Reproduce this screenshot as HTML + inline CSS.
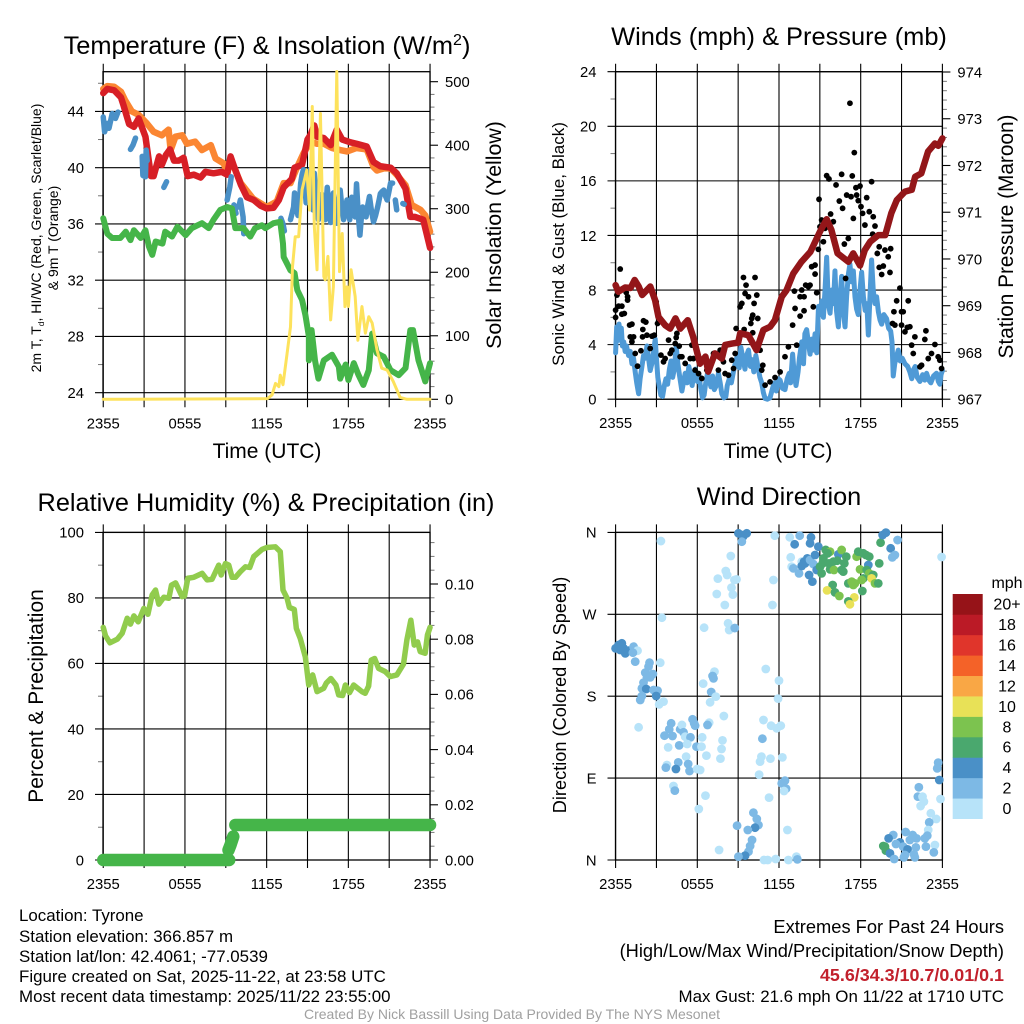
<!DOCTYPE html>
<html lang="en">
<head>
<meta charset="utf-8">
<title>NYS Mesonet Tyrone station meteogram</title>
<style>
html,body{margin:0;padding:0;background:#fff;width:1024px;height:1024px;overflow:hidden}
svg{display:block}
text{font-family:"Liberation Sans",Arial,sans-serif;fill:#000}
</style>
</head>
<body>
<svg id="figure" xmlns="http://www.w3.org/2000/svg" width="1024" height="1024" viewBox="0 0 1024 1024">
  <g id="layer-axes"></g>
  <g id="layer-frame"></g>
  <g id="layer-data"></g>
  <g id="layer-labels"></g>

  <text x="267" y="54" font-size="25.4" text-anchor="middle">Temperature (F) &amp; Insolation (W/m<tspan dy="-9" font-size="16">2</tspan><tspan dy="9">)</tspan></text>
  <text x="779" y="45" font-size="25.4" text-anchor="middle">Winds (mph) &amp; Pressure (mb)</text>
  <text x="266" y="511" font-size="25.3" text-anchor="middle">Relative Humidity (%) &amp; Precipitation (in)</text>
  <text x="779" y="505" font-size="25.3" text-anchor="middle">Wind Direction</text>

  <text x="267" y="458" font-size="21" text-anchor="middle">Time (UTC)</text>
  <text x="778" y="458" font-size="21" text-anchor="middle">Time (UTC)</text>

  <text transform="translate(41,238) rotate(-90)" font-size="14" text-anchor="middle">2m T, T<tspan dy="3" font-size="8.5">d</tspan><tspan dy="-3">, HI/WC (Red, Green, Scarlet/Blue)</tspan></text>
  <text transform="translate(58,238) rotate(-90)" font-size="14" text-anchor="middle">&amp; 9m T (Orange)</text>
  <text transform="translate(501,235) rotate(-90)" font-size="21.3" text-anchor="middle">Solar Insolation (Yellow)</text>
  <text transform="translate(564,244) rotate(-90)" font-size="17" text-anchor="middle">Sonic Wind &amp; Gust (Blue, Black)</text>
  <text transform="translate(1013,236.5) rotate(-90)" font-size="20.8" text-anchor="middle">Station Pressure (Maroon)</text>
  <text transform="translate(43,696) rotate(-90)" font-size="21" text-anchor="middle">Percent &amp; Precipitation</text>
  <text transform="translate(566,695) rotate(-90)" font-size="18.2" text-anchor="middle">Direction (Colored By Speed)</text>

  <g id="legend">
    <text x="1007" y="588" font-size="16" text-anchor="middle">mph</text>
  </g>

  <g font-size="16.9">
    <text x="19" y="921">Location: Tyrone</text>
    <text x="19" y="942">Station elevation: 366.857 m</text>
    <text x="19" y="962">Station lat/lon: 42.4061; -77.0539</text>
    <text x="19" y="982">Figure created on Sat, 2025-11-22, at 23:58 UTC</text>
    <text x="19" y="1002">Most recent data timestamp: 2025/11/22 23:55:00</text>
  </g>
  <g text-anchor="end">
    <text x="1004" y="933" font-size="18.3">Extremes For Past 24 Hours</text>
    <text x="1004" y="957" font-size="18.26">(High/Low/Max Wind/Precipitation/Snow Depth)</text>
    <text x="1004" y="981" font-size="17.9" font-weight="bold" style="fill:#c2202c">45.6/34.3/10.7/0.01/0.1</text>
    <text x="1004" y="1002" font-size="16.9">Max Gust: 21.6 mph On 11/22 at 1710 UTC</text>
  </g>
  <text x="512" y="1019" font-size="14" text-anchor="middle" style="fill:#a0a0a0">Created By Nick Bassill Using Data Provided By The NYS Mesonet</text>
</svg>

<script>
/* ---------- shared axis values ---------- */
const timeGridHours = [0,3,6,9,12,15,18,21,24];
const timeLabelHours = [0,6,12,18,24];
const timeLabels = ['2355','0555','1155','1755','2355'];

const tempTicks = [24,28,32,36,40,44];
const tempMinorTicks = [26,30,34,38,42,46];
const solarTicks = [0,100,200,300,400,500];
const solarMinorTicks = [20,40,60,80,120,140,160,180,220,240,260,280,320,340,360,380,420,440,460,480];
const windTicks = [0,4,8,12,16,20,24];
const windMinorTicks = [2,6,10,14,18,22];
const pressureTicks = [967,968,969,970,971,972,973,974];
const pressureMinorTicks = [967.2,967.4,967.6,967.8,968.2,968.4,968.6,968.8,969.2,969.4,969.6,969.8,970.2,970.4,970.6,970.8,971.2,971.4,971.6,971.8,972.2,972.4,972.6,972.8,973.2,973.4,973.6,973.8];
const humidityTicks = [0,20,40,60,80,100];
const humidityMinorTicks = [10,30,50,70,90];
const precipTicks = [0,0.02,0.04,0.06,0.08,0.10];
const precipMinorTicks = [0.005,0.01,0.015,0.025,0.03,0.035,0.045,0.05,0.055,0.065,0.07,0.075,0.085,0.09,0.095,0.105,0.11,0.115];
const directionTicks = [0,90,180,270,360];
const directionLabels = ['N','E','S','W','N'];

/* ---------- temperature panel ---------- */
const redHours = [0,.3,.8,1.3,1.5,1.9,2.25,2.6,3.1,3.5,3.7,4.1,4.3,4.6,4.9,5.2,5.55,5.9,6.2,6.65,7.15,7.5,8.1,8.7,9.1,9.35,9.6,10.1,10.55,11.05,11.55,12,12.5,12.9,13.25,13.85,14.05,14.6,15,15.2,15.5,15.7,16.2,16.7,17.15,17.55,18.15,18.6,19.35,19.85,20.35,21.1,21.55,22.2,22.55,22.9,23.5,24];
const redTemps = [45.3,45.6,45.5,45,44.4,43.1,42.9,43.5,42.2,39.4,39.4,40.8,40.2,40.9,41.3,40.5,40.5,40.7,39.4,39.5,39.3,39.7,39.6,39.7,39.5,40.8,40.1,38.8,37.9,37.7,37.3,37.1,37.15,37.7,38.6,39.2,40,40.2,42,42.3,43,42.2,42.1,41.6,42.7,42,41.8,41.7,41.5,40.4,40.1,40,39.6,38.5,36.5,36.5,36.3,34.3];
const orangeHours = [0,.3,.8,1.3,1.6,2.1,2.6,3.2,3.7,4.3,4.8,4.95,5.3,5.8,6.15,6.75,7.25,7.9,8.25,8.85,9.1,9.35,10.1,11,12,12.75,13.25,13.75,14.2,14.7,15.2,15.7,16.2,16.8,17.4,17.9,18.6,19.35,19.85,20.1,20.6,21.1,21.55,22.2,22.65,23.3,23.65,24];
const orangeTemps = [45.6,45.8,45.75,45.4,44.8,44,43.75,43.15,42.55,42.3,42.7,41.25,42.2,42.3,41.7,41.85,41.25,41.6,40.65,40.3,39.6,40.6,38.9,37.8,37.2,37.6,38.9,38.9,39.95,41,41.85,41.7,41.7,41.4,41.25,41.15,41.4,41.3,40.05,39.8,39.95,39.95,39.5,38.75,37.35,37,36.6,35.45];
const heatIndexHours = [0,.1,.29,.42,.66,.9,1.08,null,2,2.18,2.37,null,2.86,2.91,3.1,3.15,3.23,null,4.45,4.65,null,9.1,9.3,9.4,null,9.6,9.75,null,9.95,10.07,10.27,10.32,null,13.05,13.2,13.3,null,13.75,13.88,13.98,14.05,14.18,14.3,14.42,14.5,14.6,14.7,14.8,14.9,15,15.1,15.2,15.3,15.4,15.5,15.6,15.7,15.8,15.92,16.05,16.18,16.3,16.45,16.58,16.7,16.8,16.9,17.03,17.15,17.28,17.4,17.52,17.65,17.78,17.9,18,18.1,18.25,18.38,18.5,18.6,18.72,18.85,18.95,19.05,19.18,19.3,19.42,19.55,19.7,19.85,20,20.15,20.28,20.35,20.48,20.6,20.72,20.85,20.98,21.1,21.25,null,21.45,21.55,null,22,22.1];
const heatIndexTemps = [43.6,42.55,43.15,42.8,43.85,43.5,43.95,null,41.3,41.6,42.1,null,40.8,39.45,39.35,41.25,40.5,null,38.6,39,null,37.7,38.65,39.35,null,37.35,36.75,null,37.2,37.7,36.5,35.3,null,36.4,36,35.5,null,36.3,36.8,37.2,38.2,37.2,36.6,37.8,38.9,39.5,39.85,38.8,37.5,38.6,39.7,39.85,38.3,37,39.6,38,37,36.3,37.2,38.1,37,36.3,38.6,37.2,36.1,37.3,38.2,37,36.05,37.4,38.4,37.2,36.3,37,37.7,36.8,36.3,37.9,37,36.5,38.85,36.8,35.2,36.4,37.2,36.9,36.5,37.3,37.95,36.9,36.15,36.6,37.2,37.8,38.15,38.3,38.4,38,37.7,38.3,38.9,38.9,null,37.7,37,null,37.45,37.4];
const dewHours = [0,.3,.65,1.25,1.65,2,2.25,2.75,3.1,3.35,3.6,3.85,4.35,4.55,5.05,5.45,6.05,6.5,7.25,7.75,8.1,8.6,9.1,9.45,9.7,10.3,10.8,11.15,11.65,11.9,12.5,13,13.2,13.25,13.75,14.05,14.25,14.6,14.85,15.1,15.1,15.3,15.55,15.8,16.2,16.8,17.3,17.4,17.8,18,18.4,18.75,19.1,19.5,19.75,20.1,20.6,21.1,21.7,22.2,22.55,22.75,23.15,23.65,24];
const dewTemps = [36.4,35.3,35,35,35.45,34.85,35.55,35,35.55,34.4,33.8,34.75,34.6,35.45,35.1,35.8,35.2,35.7,36.05,35.7,36.3,37,37.2,37.1,35.7,35.7,35.1,35.7,35.9,35.7,36.05,36.15,34.6,33.65,32.7,32.5,31.3,30.6,29.5,28,26.3,28.45,26.3,25,26.3,26.7,25.85,25,26,24.9,26.1,25.25,24.55,25.6,28.2,26.8,26.55,25.6,25.25,25.75,28.45,28.45,26.3,24.8,26.1];
const solarHours = [0,12.05,12.4,12.65,12.9,13,13.2,13.5,13.75,13.9,14.1,14.35,14.6,14.95,15.15,15.35,15.5,15.7,15.95,16.2,16.3,16.5,16.7,16.9,17.15,17.35,17.55,17.75,17.9,18,18.2,18.5,18.7,19,19.25,19.5,19.75,20.1,20.45,20.85,21.3,21.8,22.3,24];
const solarWatts = [0,1,7,25,20,38,23,72,114,209,256,256,330,361,298,461,272,204,450,193,188,225,125,177,516,201,261,146,177,146,204,162,93,146,104,130,120,78,49,46,28,3,0,0];

/* ---------- winds panel ---------- */
const sonicHours = [0,.08,.17,.25,.34,.42,.5,.6,.7,.8,.95,1.08,1.2,1.32,1.44,1.55,1.69,1.8,1.92,2.05,2.18,2.3,2.42,2.54,2.66,2.78,2.91,3,3.1,3.2,3.32,3.45,3.58,3.7,3.82,3.95,4.07,4.19,4.31,4.45,4.57,4.7,4.87,5,5.11,5.25,5.38,5.5,5.62,5.72,5.85,6,6.12,6.25,6.38,6.5,6.62,6.75,6.88,7,7.12,7.25,7.4,7.55,7.68,7.8,7.95,8.1,8.2,8.35,8.5,8.65,8.8,8.95,9.08,9.2,9.35,9.5,9.62,9.76,9.9,10.02,10.15,10.3,10.45,10.6,10.73,10.85,10.98,11.15,11.34,11.5,11.65,11.8,11.95,12.08,12.25,12.44,12.6,12.75,12.85,13,13.12,13.25,13.4,13.5,13.67,13.8,13.9,14.03,14.15,14.28,14.4,14.52,14.65,14.77,14.9,15.02,15.14,15.26,15.38,15.5,15.62,15.75,15.87,16,16.11,16.22,16.36,16.48,16.6,16.72,16.85,16.97,17.1,17.21,17.33,17.46,17.58,17.7,17.82,17.95,18.07,18.2,18.33,18.45,18.56,18.68,18.8,18.92,19.05,19.17,19.3,19.42,19.54,19.7,19.9,20.05,20.2,20.3,20.39,20.5,20.62,20.76,20.9,21.05,21.25,21.45,21.61,21.75,21.9,22,22.15,22.35,22.55,22.7,22.84,23,23.15,23.35,23.57,23.7,23.81,23.9,24];
const sonicSpeeds = [3.4,5.3,4.3,5.5,4.8,5.2,3.9,4.2,3.5,3.9,3.2,3.5,2.6,3,2,1.2,.4,1.5,2.3,3.2,3,3.9,3,2.1,2.6,3.4,4.4,3,1.6,1,.3,.2,1,1.5,1.1,2.2,2.8,1.6,2.2,3.9,2.6,1.7,.6,1.3,1.9,1.2,2.4,1.8,1,1.7,2.2,1.3,1.8,.8,.1,.3,1.2,1.9,1.4,.9,1.7,.7,1,1.9,1.2,.4,.1,.2,1,1.5,1.2,2,2.7,3.2,2.3,3.8,3,2.2,3.2,3.6,2.4,2.9,2,3.2,2.4,1.6,1.2,.5,.05,0,.1,.7,1.2,.6,1.5,1.4,.8,.7,1.5,1.9,1.2,3.3,1.8,1,2,3,4.2,2.6,4.8,5.1,4.2,3.3,4.4,3.6,4.8,3.4,6.8,6.2,7.2,6,8,10.4,7,6.3,8,7,9.4,6.5,5.3,7.5,9,6.5,5.3,7.6,9.2,9.9,8.6,9.4,7.5,6.6,6.2,8,9.3,7.5,6.5,7,4.7,7.5,10.2,8,7,7.5,6.4,5.8,5.5,6.2,5.9,5.2,5,4.2,1.7,2.6,3.1,3.6,2.8,3,2.6,2.4,2,1.5,2.2,2.4,1.6,1.3,1.8,1.4,1.9,1.4,1.2,1.7,1.9,1.3,1.1,1.8,2.1];
const gustHours = [0,0,.1,.22,.34,.46,.46,.64,.78,.88,.88,1.03,1.2,1.08,1.32,1.2,1.44,1.61,1.86,2.05,2.22,2,1.98,2.3,2.54,2.67,2.84,2.98,3.08,3.33,3.52,3.64,3.89,4.01,4.13,4.38,4.5,4.45,4.67,4.74,4.87,5.11,5.48,5.6,5.72,5.84,6.09,6.33,6.7,7.19,7.55,7.68,7.92,8.04,8.29,8.53,8.66,8.78,8.85,9.14,9.27,9.39,9.51,9.58,9.76,9.44,10.07,10,9.93,10.17,10.24,10.37,10.44,10.07,10.61,10.81,10.73,10.98,11.34,11.71,12.08,12.44,12.69,13.3,13.67,13.55,13.84,13.13,13.18,13.55,13.84,13,13.96,14.28,14.16,14.4,14.65,14.65,14.77,14.52,14.89,14.94,15.01,15.13,15.26,15.38,15.5,15.67,15.79,15.99,16.19,16.43,16.6,16.67,16.8,16.89,16.97,17.09,17.21,17.29,17.38,17.46,17.53,17.65,17.7,17.82,17.95,18.02,18.14,18.31,18.44,18.8,18.63,18.88,18.92,19.05,19.22,19.36,19.36,19.66,19.78,20.02,20.2,20.15,19.54,20.34,20.51,20.64,20.44,20.88,21,21.12,21,21.25,21.42,21.49,21.61,21.74,21.98,21.86,22.47,22.35,22.79,22.71,22.96,23.2,23.45,23.69,23.81,23.94];
const gustSpeeds = [5.99,6.53,7.63,6.82,9.54,6.82,6.23,6.28,7.82,7.51,7.26,5.43,5.5,4.57,4.57,4.21,3.35,2.42,3.55,5.75,5.65,5.11,4.57,4.69,3.72,4.62,4.69,7.14,5.55,3.23,2.74,2.98,4.33,3.35,3.59,4.08,4.82,4.52,3.89,3.11,3.11,2.62,2.98,3.96,2.98,2.13,1.88,1.52,2.13,3.35,2.13,3.59,2.74,1.88,1.76,2.86,2.25,3.35,5.18,6.77,7.02,8.92,7.75,8.36,7.51,5.11,6.16,5.92,5.55,7.02,8.92,7.63,5.92,4.87,3.59,2.49,2.13,1.03,1.27,1.59,2,3.11,3.84,3.96,8,7.51,7.51,7.92,6.65,6.09,6.48,5.43,8.36,8.36,8.24,9.71,9.83,9.17,7.8,6.77,10.98,14.65,12.64,13.13,11.54,12.52,16.38,16.14,13.57,13.01,15.7,14.52,16.48,13.99,11.37,8.85,14.96,11.78,21.69,14.84,16.36,13.25,18.07,15.5,14.96,14.55,15.62,14.11,13.62,12.76,14.77,15.94,13.74,12.1,13.37,12.69,10.68,9.66,11.17,9.76,10.93,10.44,11.03,9.29,9.14,5.55,5.43,7.21,6.41,8.14,6.41,6.41,5.43,4.94,5.26,7.21,5.31,3.96,4.57,3.35,2.49,2.37,5.01,4.38,2.98,3.35,4.01,3.11,2.86,2.25];
const pressureHours = [0,.2,.7,1.1,1.4,1.7,1.95,2.55,2.9,3.15,3.65,4,4.4,4.75,5.3,5.7,6.2,6.6,6.8,7.3,7.8,8.05,8.55,9,9.15,9.75,10.35,10.85,11.35,11.7,12.2,12.55,13.05,13.65,14.3,15,15.5,15.85,16.3,17.1,17.45,17.95,18.3,18.7,19.3,19.8,20.25,20.65,21.25,21.75,22,22.45,22.95,23.45,23.7,24];
const pressureValues = [969.44,969.3,969.39,969.38,969.55,969.41,969.23,969.41,969.12,968.76,968.58,968.51,968.73,968.51,968.69,968.33,967.76,967.91,967.59,967.98,967.87,968.16,968.19,968.21,968.41,968.37,968.05,968.48,968.55,968.69,969.19,969.33,969.69,969.94,970.15,970.58,970.85,970.62,970.12,969.94,970.12,969.86,970.19,970.37,970.51,970.51,970.98,971.26,971.44,971.48,971.76,971.83,972.3,972.47,972.42,972.58];

/* ---------- humidity panel ---------- */
const humidityHours = [0,.17,.49,1.03,1.39,1.76,2,2.25,2.57,2.98,3.28,3.59,3.84,4.08,4.45,4.82,5.01,5.31,5.79,5.97,6.21,6.65,7.26,7.63,7.99,8.48,8.66,8.97,9.22,9.46,9.71,10.07,10.44,10.76,11.05,11.66,12.03,12.64,13,13.2,13.5,13.67,14.03,14.18,14.47,14.84,15.09,15.38,15.7,16.19,16.38,16.72,17.09,17.29,17.58,17.78,18.09,18.39,19,19.24,19.49,19.68,19.93,20.22,20.71,21.08,21.56,22.05,22.3,22.59,22.84,23.08,23.28,23.64,23.81,24];
const humidityValues = [71,68.4,66.3,67.4,69.2,73.8,72,74.5,72.7,76.8,75,80.9,82.4,78.1,80.2,79.9,83.9,84.6,80.4,80.6,86,86.3,87.5,85.5,85.7,90,87,90.5,90,86.3,86.3,88,89.5,89.3,92.6,94.8,95.4,95.6,94.1,82.4,79.9,77.1,76.5,70.7,67.6,62,53.4,56.5,51.4,52.4,54,55.4,53.4,50.4,50.2,53.4,51.1,53.4,51.4,50.9,53.1,61,61.5,58.5,57.5,56,56.5,59.8,67.2,73.2,65.6,66.6,63.6,63.1,68.7,71];
const precipHours = [0,9.25,null,9.2,9.35,9.55,null,9.7,24];
const precipValues = [0,0,null,0.0036,0.0055,0.0085,null,0.0127,0.0127];

/* ---------- wind direction panel ---------- */
const dirHours = [
0,.22,.46,.59,.34,.71,.95,1.32,1.61,1.27,1.44,2.49,2.42,3.28,2.18,2.74,2.54,2.3,2.05,1.93,2.25,2.79,3.08,2.98,1.93,1.81,3.52,3.2,1.69,3.4,3.33,
7.26,7.12,7.19,6.43,7.02,7.36,6.94,7.95,5.65,5.77,5.84,6.87,6.75,4.08,3.94,4.74,4.87,4.99,3.59,4.18,5.11,5.5,6.36,7.85,4.67,5.26,5.94,6.31,3.86,7.78,5.18,6.67,7.7,4.6,3.77,5.33,3.69,4.43,5.43,5.99,6.21,4.25,4.35,6.6,6.11,
11.03,12,11.93,10.86,11.42,11.83,12.13,10.78,10.71,10.61,11.37,12.25,10.54,12.44,12.2,12.52,12.37,11.27,10.12,10.37,10.49,10.24,9.71,8.92,12.62,10.02,9.88,9.76,9.51,9.02,7.6,10.9,11.17,11.76,12.69,13.28,13.35,
9.02,9.27,9.63,9.39,9.27,8.46,11.69,12.79,13.52,14.35,13.15,14.28,14.89,8.09,8.19,7.51,8.73,8.88,11.59,8.51,7.43,8.61,8.02,11.52,8.26,8.34,6.5,8.75,
12.86,12.93,13.06,13.47,13.67,13.84,13.67,14.08,13.91,14.52,14.28,14.21,14.45,14.65,14.77,15.13,15.01,15.21,15.43,15.75,15.57,15.26,15.67,15.99,16.36,16.6,16.94,16.28,16.8,15.75,16.04,16.6,16.72,17.7,17.82,18.19,18.39,18.63,19.36,18.56,17.95,18.44,18.63,18.92,18.19,18.8,19.05,19.29,17.09,17.34,17.58,18.07,17.46,15.94,15.53,16.11,16.43,18.12,17.53,17.09,17.21,19.46,19.85,19.61,20.2,20.71,20.51,20.32,23.94,
23.69,23.62,23.77,22.27,22.2,22.54,23.86,22.64,22.4,23.15,23.55,23.03,22.96,22.89,22.71,21.81,21.3,20.39,20.05,22.1,21.61,20.88,20.59,23.45,22.79,22.05,21.12,21.44,19.78,19.66,19.85,20.15,23.37,21.91,21.25,20.46,21.98,21.17];
const dirDegrees = [
232.6,236.3,238.1,232.6,230.8,227.1,230,234.4,230,227.8,218,216.8,212.5,216.8,205.9,204.4,200.7,200.7,194.9,188.6,187.9,186.8,186.1,180.2,180.2,175.8,174,171,145.8,266.3,350.5,
207,202.2,199.6,193.8,184.6,179.5,173.3,158.2,154.6,150.2,147.6,150.9,148.4,150.2,143.6,143.6,148.4,140.3,136.6,136.3,135.5,134.8,134.8,131.5,126,127.5,124.5,124.5,123.8,122,113.6,114.7,111.4,107.3,104.4,105.5,101.5,100,97.8,100,98.9,81.3,76.2,70.7,56,
209.9,197.1,177.3,153.8,147.6,144.7,147.6,133.3,113.6,108.1,111.4,112.8,93.8,87.2,84.2,78.4,75.8,68.5,52,45.1,38.5,35.5,33,37.7,33,22,15.4,9.2,4.8,3.7,11,0,0,1.1,0,3.7,.7,
359,357.1,359,356,349.8,334.1,356.4,354.6,356.4,354.6,346.9,348,344.3,317.6,313.2,309.2,307.7,308.4,307.7,299.3,292.3,291.6,280.2,280.2,260.1,252.7,255.3,254.9,
332.6,322.3,320.5,315,327.8,327.8,323.1,331.5,326,325.3,329.7,313.2,305.9,335.2,318.7,315,322.3,326,340.7,338.8,337,331.5,326,327.8,335.9,340.7,333.3,328.9,326,319.4,318.7,318.7,316.9,333.3,338.8,337,335.2,333.3,326,324.2,319.4,318.7,315,313.2,309.5,309.5,304,304,304,305.9,304,307.7,302.2,302.2,296.3,294.1,290.1,295.6,288.6,284.2,281,348.7,359.7,357.1,342.5,351.6,335.2,332.6,333,
107,100.7,87.9,79.9,69.6,69.6,67,64.1,59.3,51.3,45.1,41.4,33,26.7,23.8,27.5,30.8,27.5,23.8,23.8,22,19.4,17.6,16.5,14.7,13.9,14.7,11.7,14.7,15.4,10.3,7.3,8.4,6.2,5.5,1.1,2.9,2.9];
const dirSpeeds = [
5,5,5,5,5,5,5,3,1,3,3,3,3,1,3,3,3,3,3,3,5,3,3,5,3,3,1,1,1,1,1,
1,3,3,1,3,1,1,1,3,3,3,1,3,3,3,3,1,3,3,3,1,3,1,1,3,1,3,1,1,1,1,1,1,3,1,3,3,5,3,1,1,1,3,1,1,
1,1,1,1,1,1,1,3,1,1,1,1,1,3,3,3,1,1,3,3,3,5,3,3,1,3,3,3,5,3,1,1,1,1,1,1,3,
5,5,5,5,3,1,1,1,3,5,5,5,5,1,1,1,1,1,1,1,1,1,1,1,1,1,1,3,
1,1,3,3,1,5,5,5,5,3,3,5,5,5,5,7,7,7,7,9,7,7,7,7,5,9,7,7,7,7,9,7,7,9,7,7,7,7,7,5,9,7,9,7,7,11,9,7,7,9,9,9,9,7,11,7,9,7,11,7,11,7,5,5,5,3,3,3,1,
3,3,5,3,3,1,1,1,1,1,1,3,1,3,3,3,3,3,5,3,3,5,3,1,3,3,3,5,7,7,7,5,3,3,3,3,3,3];

/* ---------- colorbar values ---------- */
const speedBinEdges = [0,2,4,6,8,10,12,14,16,18,20];
const speedBinLabels = ['0','2','4','6','8','10','12','14','16','18','20+'];
const speedBinColors = ['#b7e3f9','#7db9e5','#4a90c7','#4aa86e','#7cc34f','#e8e157','#f9a745','#f46228','#e0352b','#bb1a26','#961318'];

/* ---------- scales and drawing ---------- */
const NS = 'http://www.w3.org/2000/svg';
const axesLayer = document.getElementById('layer-axes');
const dataLayer = document.getElementById('layer-data');
const frameLayer = document.getElementById('layer-frame');
const labelLayer = document.getElementById('layer-labels');
const legendLayer = document.getElementById('legend');

function linear(d0, d1, r0, r1) {
  return function (v) { return r0 + (v - d0) * (r1 - r0) / (d1 - d0); };
}

function make(tag, parent, name) {
  const el = document.createElementNS(NS, tag);
  
  
  parent.appendChild(el);
  return el;
}

function segment(parent, name, x1, y1, x2, y2, color, width) {
  const l = make('line', parent, name);
  l.setAttribute('x1', x1);
  l.setAttribute('y1', y1);
  l.setAttribute('x2', x2);
  l.setAttribute('y2', y2);
  l.setAttribute('stroke', color);
  l.setAttribute('stroke-width', width);
}

function label(parent, name, x, y, anchor, str, size) {
  const t = make('text', parent, name);
  t.setAttribute('x', x);
  t.setAttribute('y', y);
  t.setAttribute('text-anchor', anchor);
  t.setAttribute('font-size', size);
  t.textContent = str;
}

function drawFrame(box, prefix) {
  const r = make('rect', frameLayer, prefix + '-plot-frame');
  r.setAttribute('x', box.left);
  r.setAttribute('y', box.top);
  r.setAttribute('width', box.right - box.left);
  r.setAttribute('height', box.bottom - box.top);
  r.setAttribute('fill', 'none');
  r.setAttribute('stroke', '#000');
  r.setAttribute('stroke-width', 1.3);
}

function drawTimeAxis(box, x, prefix) {
  timeGridHours.forEach(function (h) {
    segment(axesLayer, prefix + '-time-gridline', x(h), box.top - 8, x(h), box.bottom + 8, '#000', 1.1);
  });
  timeLabelHours.forEach(function (h, i) {
    label(labelLayer, prefix + '-time-tick-label', x(h), box.bottom + 29, 'middle', timeLabels[i], 14.8);
  });
}

function drawLeftAxis(box, y, ticks, minor, labels, prefix) {
  ticks.forEach(function (v, i) {
    segment(axesLayer, prefix + '-left-gridline', box.left - 8, y(v), box.right, y(v), '#000', 1.1);
    label(labelLayer, prefix + '-left-tick-label', box.left - 19, y(v) + 5.3, 'end', labels[i], 14.8);
  });
  minor.forEach(function (v) {
    segment(axesLayer, prefix + '-left-minor-tick', box.left - 5, y(v), box.left, y(v), '#777', 1);
  });
}

function drawRightAxis(box, y, ticks, minor, labels, prefix) {
  ticks.forEach(function (v, i) {
    segment(axesLayer, prefix + '-right-tick', box.right, y(v), box.right + 8, y(v), '#000', 1.1);
    label(labelLayer, prefix + '-right-tick-label', box.right + 15, y(v) + 5.3, 'start', labels[i], 14.8);
  });
  minor.forEach(function (v) {
    segment(axesLayer, prefix + '-right-minor-tick', box.right, y(v), box.right + 4.5, y(v), '#777', 1);
  });
}

function drawLine(name, hours, values, x, y, color, width) {
  let d = '';
  let pen = false;
  hours.forEach(function (h, i) {
    if (h === null || values[i] === null) { pen = false; return; }
    d += (pen ? 'L' : 'M') + x(h).toFixed(2) + ' ' + y(values[i]).toFixed(2);
    pen = true;
  });
  const p = make('path', dataLayer, name);
  p.setAttribute('d', d);
  p.setAttribute('fill', 'none');
  p.setAttribute('stroke', color);
  p.setAttribute('stroke-width', width);
  p.setAttribute('stroke-linecap', 'round');
  p.setAttribute('stroke-linejoin', 'round');
}

function drawDot(name, cx, cy, r, color) {
  const c = make('circle', dataLayer, name);
  c.setAttribute('cx', cx.toFixed(2));
  c.setAttribute('cy', cy.toFixed(2));
  c.setAttribute('r', r);
  c.setAttribute('fill', color);
}

function speedColor(speed) {
  let idx = 0;
  speedBinEdges.forEach(function (edge, i) { if (speed >= edge) idx = i; });
  return speedBinColors[idx];
}

/* panel boxes */
const boxTemp = {left:103,right:430,top:71.7,bottom:399.3};
const boxWind = {left:615.5,right:942.4,top:71.7,bottom:399.2};
const boxHum  = {left:103,right:430,top:532.4,bottom:860};
const boxDir  = {left:615.5,right:942.4,top:532.4,bottom:860};

const xLeft = linear(0,24,103.25,430.05);
const xRight = linear(0,24,615.6,942.4);

/* temperature */
const tempY = linear(24,44,392.7,111.4);
const solarY = linear(0,500,399.3,81.7);
drawTimeAxis(boxTemp, xLeft, 'temperature');
drawLeftAxis(boxTemp, tempY, tempTicks, tempMinorTicks, tempTicks.map(String), 'temperature');
drawRightAxis(boxTemp, solarY, solarTicks, solarMinorTicks, solarTicks.map(String), 'solar');
drawFrame(boxTemp, 'temperature');
drawLine('nine-metre-temperature-line', orangeHours, orangeTemps, xLeft, tempY, '#fb8632', 6.5);
drawLine('two-metre-temperature-line', redHours, redTemps, xLeft, tempY, '#d71f26', 6.5);
drawLine('heat-index-wind-chill-line', heatIndexHours, heatIndexTemps, xLeft, tempY, '#4a90c7', 5.5);
drawLine('dew-point-line', dewHours, dewTemps, xLeft, tempY, '#45b549', 6);
drawLine('solar-insolation-line', solarHours, solarWatts, xLeft, solarY, '#fde25c', 3);

/* winds */
const windY = linear(0,24,399.2,71.7);
const pressureY = linear(967,974,399.2,72);
drawTimeAxis(boxWind, xRight, 'winds');
drawLeftAxis(boxWind, windY, windTicks, windMinorTicks, windTicks.map(String), 'winds');
drawRightAxis(boxWind, pressureY, pressureTicks, pressureMinorTicks, pressureTicks.map(String), 'pressure');
drawFrame(boxWind, 'winds');
drawLine('sonic-wind-line', sonicHours, sonicSpeeds, xRight, windY, '#4f9ad6', 5);
gustHours.forEach(function (h, i) {
  drawDot('wind-gust-point', xRight(h), windY(gustSpeeds[i]), 2.9, '#000');
});
drawLine('station-pressure-line', pressureHours, pressureValues, xRight, pressureY, '#931619', 6.5);

/* humidity */
const humY = linear(0,100,860,532.4);
const precipY = linear(0,0.1,860,584);
drawTimeAxis(boxHum, xLeft, 'humidity');
drawLeftAxis(boxHum, humY, humidityTicks, humidityMinorTicks, humidityTicks.map(String), 'humidity');
drawRightAxis(boxHum, precipY, precipTicks, precipMinorTicks, precipTicks.map(function (v) { return v.toFixed(2); }), 'precipitation');
drawFrame(boxHum, 'humidity');
drawLine('relative-humidity-line', humidityHours, humidityValues, xLeft, humY, '#91cc4d', 5.5);
drawLine('precipitation-line', precipHours, precipValues, xLeft, precipY, '#45b549', 12.5);

/* wind direction */
const dirY = linear(0,360,860,532.4);
drawTimeAxis(boxDir, xRight, 'direction');
drawLeftAxis(boxDir, dirY, directionTicks, [], directionLabels, 'direction');
drawFrame(boxDir, 'direction');
dirHours.forEach(function (h, i) {
  drawDot('wind-direction-point', xRight(h), dirY(dirDegrees[i]), 4.4, speedColor(dirSpeeds[i]));
});

/* colorbar */
const legendY = linear(0,11,818.7,594);
speedBinLabels.forEach(function (txt, i) {
  const r = make('rect', legendLayer, 'colorbar-swatch');
  r.setAttribute('x', 952.7);
  r.setAttribute('y', legendY(i + 1));
  r.setAttribute('width', 30);
  r.setAttribute('height', legendY(i) - legendY(i + 1) + 0.3);
  r.setAttribute('fill', speedBinColors[i]);
  label(legendLayer, 'colorbar-label', 1007, (legendY(i) + legendY(i + 1)) / 2 + 5.5, 'middle', txt, 16);
});
</script>
</body>
</html>
